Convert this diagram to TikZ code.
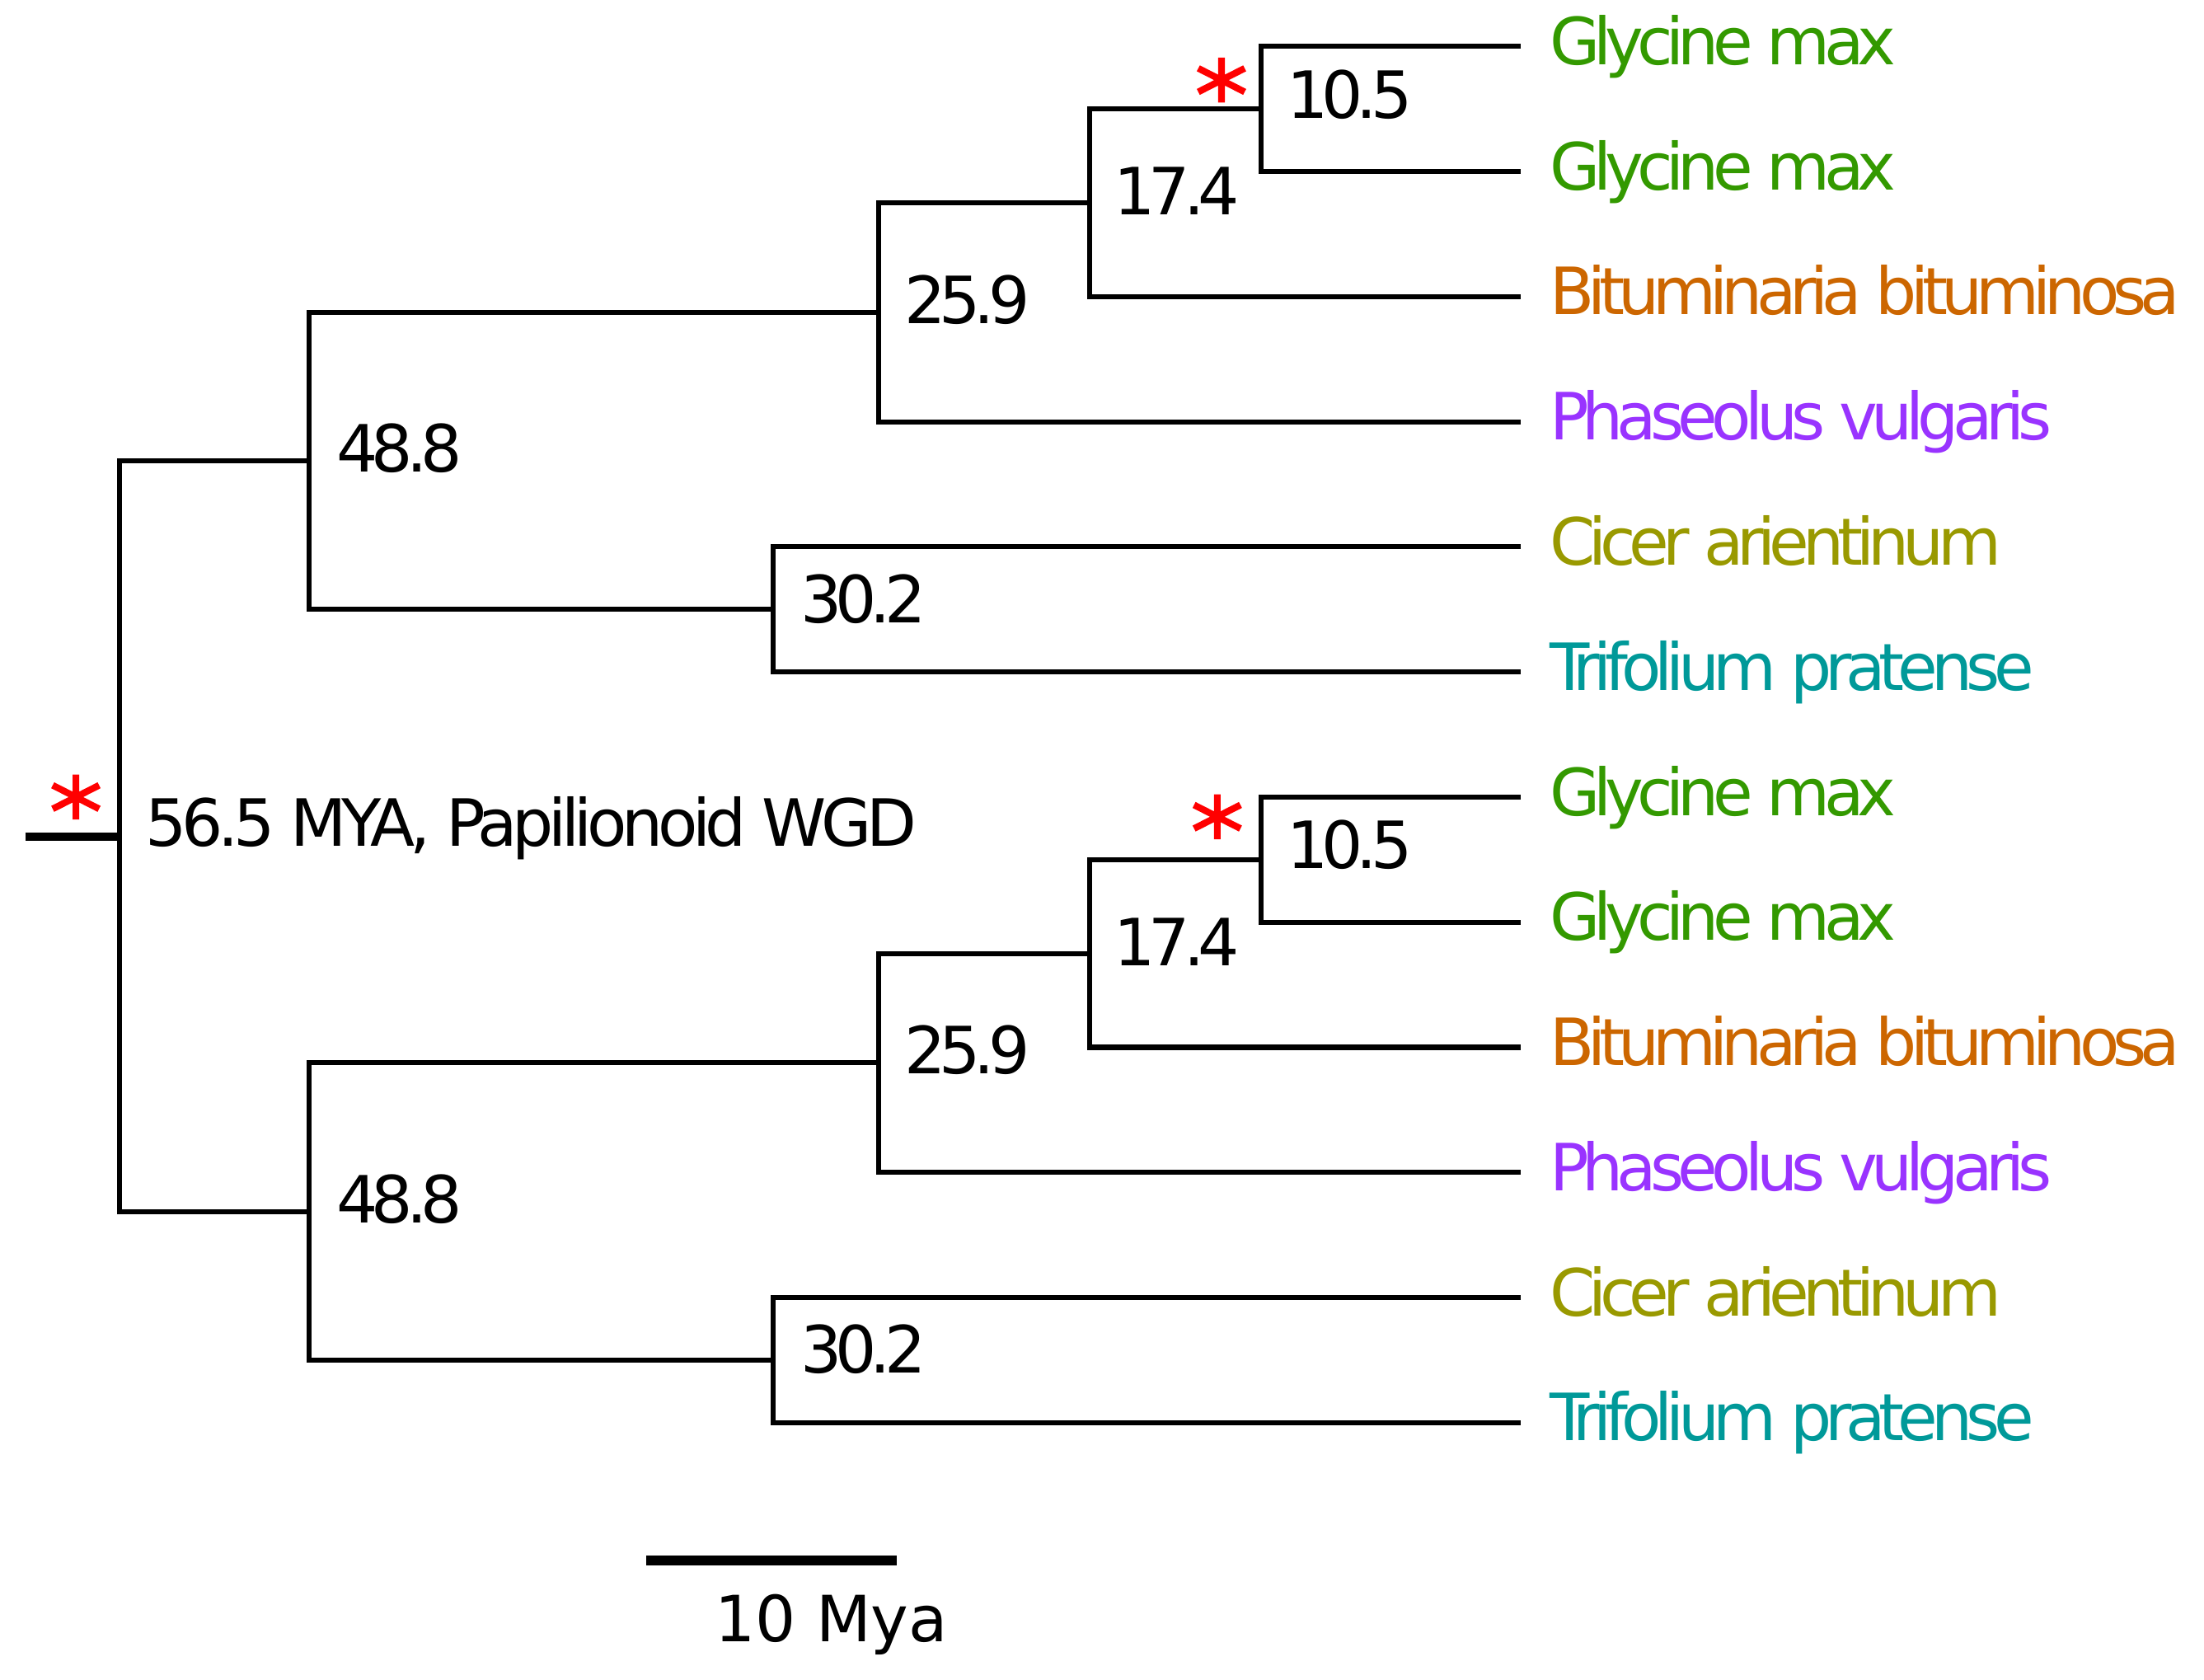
\documentclass[tikz,border=0pt]{standalone}
\usepackage{fontspec}
\setmainfont{DejaVu Sans}
\newfontfamily\labfont[LetterSpace=-10]{DejaVu Sans}
\newfontfamily\rootfont[LetterSpace=-8]{DejaVu Sans}
\definecolor{gm}{HTML}{339900}
\definecolor{bb}{HTML}{CC6600}
\definecolor{pv}{HTML}{9933FF}
\definecolor{ca}{HTML}{999900}
\definecolor{tp}{HTML}{009999}
\definecolor{astred}{HTML}{FF0000}
\begin{document}
\begin{tikzpicture}[x=0.017054cm,y=-0.017054cm,
  branch/.style={line width=1.75pt},
  thick bar/.style={line width=2.8pt},
  tiplab/.style={anchor=base west,inner sep=0pt,font=\labfont\fontsize{22.5}{26}\selectfont},
  agelab/.style={anchor=west,inner sep=0pt,font=\labfont\fontsize{22.5}{26}\selectfont},
  ast/.pic={\draw[astred,line width=2.3pt] (0,-16)--(0,16) (-16.5,-8.4)--(16.5,8.4) (-16.5,8.4)--(16.5,-8.4);}
]
\useasboundingbox (0,0) rectangle (1568,1195);
\foreach \s/\o in {u/0,l/534}{
  \coordinate (t\s1) at (1082,33+\o);
  \coordinate (t\s2) at (1082,122+\o);
  \coordinate (t\s3) at (1082,211+\o);
  \coordinate (t\s4) at (1082,300+\o);
  \coordinate (t\s5) at (1082,389+\o);
  \coordinate (t\s6) at (1082,478+\o);
  \coordinate (A\s) at (897,77.5+\o);
  \coordinate (B\s) at (775,144.25+\o);
  \coordinate (C\s) at (625,222+\o);
  \coordinate (D\s) at (550,433.5+\o);
  \coordinate (E\s) at (220,328+\o);
  \draw[branch] (t\s1) -| (A\s) |- (t\s2);
  \draw[branch] (A\s) -- (A\s -| B\s) |- (t\s3);
  \draw[branch] (B\s) -- (B\s -| C\s) |- (t\s4);
  \draw[branch] (t\s5) -| (D\s) |- (t\s6);
  \draw[branch] (C\s) -- (C\s -| E\s) |- (D\s);
  \node[agelab] (la\s) at (915,67+\o) {10.5};
  \node[agelab] (lb\s) at (792,136+\o) {17.4};
  \node[agelab] (lc\s) at (643,213+\o) {25.9};
  \node[agelab] (le\s) at (239,319+\o) {48.8};
  \node[agelab] (ld\s) at (569,426+\o) {30.2};
  \node[tiplab,text=gm] (n\s1) at (1102,46+\o) {Glycine max};
  \node[tiplab,text=gm] (n\s2) at (1102,135+\o) {Glycine max};
  \node[tiplab,text=bb] (n\s3) at (1102,224+\o) {Bituminaria bituminosa};
  \node[tiplab,text=pv] (n\s4) at (1102,313+\o) {Phaseolus vulgaris};
  \node[tiplab,text=ca] (n\s5) at (1102,402+\o) {Cicer arientinum};
  \node[tiplab,text=tp] (n\s6) at (1102,491+\o) {Trifolium pratense};
}
\coordinate (R) at (85,595);
\coordinate (S) at (18,595);
\draw[branch] (Eu) -- (Eu -| R) -- (El -| R) -- (El);
\draw[thick bar] (S) -- (R);
\node[anchor=base west,inner sep=0pt,font=\rootfont\fontsize{22.5}{26}\selectfont] (root) at (103,602) {56.5 MYA, Papilionoid WGD};
\pic at (54,567) {ast};
\pic at (869,57) {ast};
\pic at (866,581) {ast};
\coordinate (sb1) at (460,1110);
\coordinate (sb2) at (638,1110);
\draw[line width=3.5pt] (sb1) -- (sb2);
\node[anchor=base,inner sep=0pt,font=\fontsize{22}{26}\selectfont] (sbl) at (591.5,1168) {10 Mya};
\end{tikzpicture}
\end{document}
